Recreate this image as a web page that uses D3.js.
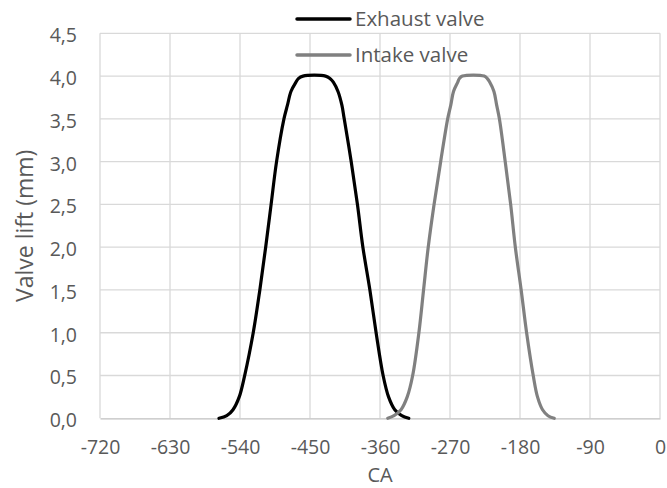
<!DOCTYPE html>
<html>
<head>
<meta charset="utf-8">
<script src="https://cdn.jsdelivr.net/npm/d3@7"></script>
<style>
  html, body { margin: 0; padding: 0; background: #fff; }
  svg { display: block; font-family: "Open Sans", "Liberation Sans", sans-serif; }
</style>
</head>
<body>
<svg id="chart" width="667" height="488"></svg>
<script>
// Crank angle ticks and lift ticks
const xTicks = [-720, -630, -540, -450, -360, -270, -180, -90, 0];
const yTicks = [0, 0.5, 1, 1.5, 2, 2.5, 3, 3.5, 4, 4.5];

// Exhaust valve lift profile (CA in degrees, lift in mm)
const exhaustCA = [-567, -557, -549, -541, -534, -523, -514.5, -507, -500, -493, -483.5, -479, -474.5, -468, -465, -459,
                   -430, -424, -420, -414, -409, -406, -397, -389, -382, -373, -365, -356, -349, -341, -332, -323];
const exhaustLift = [0, 0.03, 0.1, 0.25, 0.5, 1.0, 1.5, 2.0, 2.5, 3.0, 3.5, 3.66, 3.82, 3.93, 3.97, 4.0,
                     4.0, 3.97, 3.93, 3.82, 3.66, 3.5, 3.0, 2.5, 2.0, 1.5, 1.0, 0.5, 0.25, 0.1, 0.03, 0];

// Intake valve lift profile
const intakeCA = [-350, -342, -333, -325, -318, -310, -304, -298, -290.5, -282, -273, -269, -265.5, -260, -258, -254,
                  -226, -222, -219, -213.5, -210, -206.5, -199, -192, -186, -178.5, -171.5, -163, -157.5, -151, -144, -136];
const intakeLift = [0, 0.03, 0.1, 0.25, 0.5, 1.0, 1.5, 2.0, 2.5, 3.0, 3.5, 3.66, 3.82, 3.93, 3.97, 4.0,
                    4.0, 3.97, 3.93, 3.82, 3.66, 3.5, 3.0, 2.5, 2.0, 1.5, 1.0, 0.5, 0.25, 0.1, 0.03, 0];

const seriesNames = ["Exhaust valve", "Intake valve"];
const seriesColors = ["#000000", "#808080"];

const svg = d3.select("#chart");
const plot = { left: 100, right: 660, top: 33.3, bottom: 418.3 };

const x = d3.scaleLinear().domain([-720, 0]).range([plot.left, plot.right]);
const y = d3.scaleLinear().domain([0, 4.5]).range([plot.bottom, plot.top]);

const fmtLift = v => d3.format(".1f")(v).replace(".", ",");
const fmtCA = v => String(v);   // plain hyphen-minus

// Gridlines
const grid = svg.append("g");
grid.selectAll("line.h").data(yTicks.filter(v => v > 0)).join("line")
  .attr("x1", plot.left).attr("x2", plot.right)
  .attr("y1", d => y(d)).attr("y2", d => y(d))
  .attr("stroke", "#d9d9d9").attr("stroke-width", 1.3);
grid.selectAll("line.v").data(xTicks).join("line")
  .attr("x1", d => x(d)).attr("x2", d => x(d))
  .attr("y1", plot.top).attr("y2", plot.bottom)
  .attr("stroke", "#d9d9d9").attr("stroke-width", 1.3);

// X axis (baseline at zero lift)
const xAxis = svg.append("g")
  .attr("transform", `translate(0,${plot.bottom})`)
  .call(d3.axisBottom(x).tickValues(xTicks).tickSize(0).tickFormat(fmtCA));
xAxis.select(".domain").attr("stroke", "#bfbfbf").attr("stroke-width", 1.3);
xAxis.selectAll("text").attr("fill", "#595959").attr("font-size", 19.5)
  .attr("font-family", "'Open Sans', sans-serif").attr("dy", null).attr("y", 36);

// Y axis labels
const yAxis = svg.append("g")
  .attr("transform", `translate(${plot.left},0)`)
  .call(d3.axisLeft(y).tickValues(yTicks).tickSize(0).tickPadding(23).tickFormat(fmtLift));
yAxis.select(".domain").remove();
yAxis.selectAll("text").attr("fill", "#595959").attr("font-size", 19.5)
  .attr("font-family", "'Open Sans', sans-serif").attr("dy", "0.43em");

// Axis titles
svg.append("text")
  .attr("x", x(-360)).attr("y", 482)
  .attr("text-anchor", "middle").attr("fill", "#595959").attr("font-size", 20)
  .text("CA");
svg.append("text")
  .attr("transform", `translate(33,${(plot.top + plot.bottom) / 2}) rotate(-90)`)
  .attr("text-anchor", "middle").attr("fill", "#595959").attr("font-size", 23)
  .text("Valve lift (mm)");

// Lift curves
const line = d3.line().x(d => x(d[0])).y(d => y(d[1])).curve(d3.curveCatmullRom.alpha(0.5));
const series = [
  d3.zip(exhaustCA, exhaustLift),
  d3.zip(intakeCA, intakeLift)
];
svg.append("g").selectAll("path").data(series).join("path")
  .attr("d", line)
  .attr("fill", "none")
  .attr("stroke", (d, i) => seriesColors[i])
  .attr("stroke-width", 3.2)
  .attr("stroke-linejoin", "round")
  .attr("stroke-linecap", "round");

// Legend
const legend = svg.append("g");
const legendY = [19, 55];
seriesNames.forEach((name, i) => {
  legend.append("line")
    .attr("x1", 297).attr("x2", 350)
    .attr("y1", legendY[i]).attr("y2", legendY[i])
    .attr("stroke", seriesColors[i]).attr("stroke-width", 3.5)
    .attr("stroke-linecap", "round");
  legend.append("text")
    .attr("x", 355).attr("y", legendY[i] + 7)
    .attr("fill", "#595959").attr("font-size", 20.5)
    .text(name);
});
</script>
</body>
</html>
